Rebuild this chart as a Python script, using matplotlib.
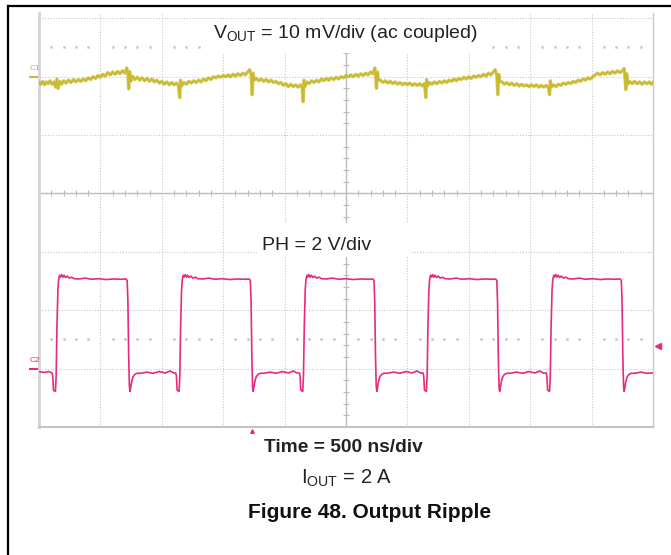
import matplotlib
matplotlib.use("Agg")
import matplotlib.pyplot as plt
from matplotlib.lines import Line2D
from matplotlib.patches import Rectangle

plt.rcParams['font.family'] = ['Liberation Sans', 'DejaVu Sans']
plt.rcParams['mathtext.fontset'] = 'custom'
plt.rcParams['mathtext.rm'] = 'Liberation Sans'
plt.rcParams['mathtext.it'] = 'Liberation Sans:italic'
plt.rcParams['mathtext.bf'] = 'Liberation Sans:bold'

# ---- scope settings ----
ns_per_div = 500
vout_mv_per_div = 10
ph_v_per_div = 2
c1_offset_div = 2.0     # C1 ground marker
c2_offset_div = -3.0    # C2 ground marker

# ---- VOUT ripple (ac coupled), time in ns, value in mV ----
vout_t = [0, 15, 30, 45, 60, 75, 90, 105, 120, 135, 145, 155, 170, 185, 200, 220, 240, 260, 280, 300,
          320, 340, 360, 380, 400, 420, 440, 460, 480, 500, 520, 540, 560, 580, 600, 620, 640, 660, 680, 700,
          715, 725, 730, 738, 748, 760, 780, 800, 820, 840, 860, 880, 900, 920, 940, 960, 980, 1000, 1020, 1040,
          1060, 1080, 1100, 1120, 1135, 1146, 1152, 1160, 1180, 1200, 1220, 1240, 1260, 1280, 1300, 1320, 1340, 1360, 1380, 1400,
          1420, 1440, 1460, 1480, 1500, 1520, 1540, 1560, 1580, 1600, 1620, 1640, 1660, 1680, 1700, 1715, 1728, 1736, 1744, 1752,
          1770, 1790, 1810, 1830, 1850, 1870, 1890, 1910, 1930, 1950, 1970, 1990, 2010, 2030, 2050, 2070, 2090, 2110, 2130, 2143,
          2152, 2158, 2166, 2180, 2200, 2220, 2240, 2260, 2280, 2300, 2320, 2340, 2360, 2380, 2400, 2420, 2440, 2460, 2480, 2500,
          2520, 2540, 2560, 2580, 2600, 2620, 2640, 2660, 2680, 2700, 2720, 2735, 2742, 2748, 2756, 2765, 2780, 2800, 2820, 2840,
          2860, 2880, 2900, 2920, 2940, 2960, 2980, 3000, 3020, 3040, 3060, 3080, 3100, 3120, 3138, 3150, 3156, 3164, 3180, 3200,
          3220, 3240, 3260, 3280, 3300, 3320, 3340, 3360, 3380, 3400, 3420, 3440, 3460, 3480, 3500, 3520, 3540, 3560, 3580, 3600,
          3620, 3640, 3660, 3680, 3700, 3715, 3728, 3736, 3744, 3752, 3770, 3790, 3810, 3830, 3850, 3870, 3890, 3910, 3930, 3950,
          3970, 3990, 4010, 4030, 4050, 4070, 4090, 4110, 4130, 4148, 4158, 4164, 4172, 4190, 4210, 4230, 4250, 4270, 4290, 4310,
          4330, 4350, 4370, 4390, 4410, 4430, 4450, 4470, 4490, 4510, 4530, 4550, 4570, 4590, 4610, 4630, 4650, 4670, 4690, 4710,
          4730, 4750, 4765, 4772, 4778, 4786, 4795, 4810, 4830, 4850, 4870, 4890, 4910, 4930, 4950, 4970, 4985, 5000]
vout_mv = [-1.0, -1.3, -0.8, -1.4, -0.9, -1.2, -0.7, -1.3, -0.9, -1.8, -0.4, -2.0, -0.8, -1.3, -0.7, -1.1, -0.6, -1.0, -0.5, -0.9,
           -0.5, -0.8, -0.4, -0.7, -0.2, -0.5, 0.0, -0.3, 0.2, -0.1, 0.4, 0.1, 0.7, 0.3, 0.8, 0.4, 0.9, 0.5, 1.0, 0.6,
           1.5, 0.2, -2.1, 0.9, -0.8, 0.1, -0.5, -0.1, -0.6, -0.2, -0.7, -0.3, -0.8, -0.4, -0.9, -0.6, -1.1, -0.8, -1.3, -0.9,
           -1.4, -1.0, -1.4, -1.1, -1.5, -3.6, -0.6, -1.6, -1.0, -1.3, -0.8, -1.1, -0.7, -1.0, -0.6, -0.9, -0.4, -0.7, -0.2, -0.5,
           0.0, -0.2, 0.1, -0.1, 0.2, 0.0, 0.3, 0.0, 0.4, 0.1, 0.5, 0.2, 0.6, 0.3, 0.8, 1.2, 0.3, -3.1, 0.6, -0.6,
           -0.3, -0.7, -0.4, -0.8, -0.5, -0.9, -0.6, -1.0, -0.8, -1.2, -1.0, -1.5, -1.2, -1.7, -1.3, -1.7, -1.4, -1.8, -1.4, -1.9,
           -4.3, -0.6, -1.7, -0.9, -1.2, -0.7, -1.0, -0.6, -0.9, -0.4, -0.7, -0.3, -0.6, -0.2, -0.5, -0.1, -0.4, 0.0, -0.2, 0.2,
           0.0, 0.3, 0.0, 0.4, 0.1, 0.5, 0.2, 0.6, 0.3, 0.8, 0.5, 1.5, 0.0, -2.0, 0.8, -0.6, -0.6, -1.0, -0.7, -1.1,
           -0.8, -1.2, -0.9, -1.3, -1.0, -1.4, -1.1, -1.4, -1.1, -1.5, -1.2, -1.5, -1.2, -1.6, -1.2, -3.6, -0.5, -1.6, -1.0, -1.3,
           -0.9, -1.2, -0.8, -1.1, -0.7, -1.0, -0.6, -0.8, -0.4, -0.7, -0.3, -0.5, -0.1, -0.4, 0.0, -0.3, 0.1, -0.1, 0.2, 0.0,
           0.4, 0.1, 0.6, 0.3, 0.8, 1.2, 0.2, -3.1, 0.4, -0.8, -0.9, -1.3, -1.0, -1.4, -1.1, -1.5, -1.2, -1.6, -1.3, -1.6,
           -1.4, -1.7, -1.4, -1.7, -1.4, -1.8, -1.5, -1.8, -1.5, -1.9, -3.1, -0.7, -1.8, -1.4, -1.7, -1.3, -1.5, -1.1, -1.3, -1.0,
           -1.2, -0.8, -1.0, -0.6, -0.8, -0.4, -0.6, -0.2, -0.4, 0.0, 0.3, 0.6, 0.3, 0.7, 0.4, 0.8, 0.5, 0.9, 0.6, 1.0,
           0.7, 1.0, 1.4, -0.2, -2.2, 0.5, -1.3, -0.8, -1.2, -0.8, -1.2, -0.9, -1.3, -0.9, -1.2, -0.9, -1.3, -1.0]

ph_rise_ns = [146, 1153, 2160, 3167, 4170]
ph_fall_ns = [728, 1731, 2738, 3738, 4752]
ph_start_t = [0, 40, 80]
ph_start_v = [-0.10, -0.13, -0.10]
# shape around a rising edge (offset ns, volts)
rise_dt = [-40, -34, -28, -12, -6, 0, 8, 14, 22, 30, 38, 48, 58, 70, 84, 100, 120, 140,
           180, 230, 280, 340, 400, 460, 520]
rise_v = [-0.15, -0.25, -0.74, -0.78, -0.2, 1.4, 2.7, 3.05, 3.2, 3.14, 3.22, 3.13, 3.2, 3.12, 3.17, 3.1, 3.13, 3.08,
          3.07, 3.1, 3.06, 3.08, 3.05, 3.07, 3.06]
# shape around a falling edge
fall_dt = [-20, -10, -4, 2, 8, 13, 20, 28, 38, 52, 70, 100, 150, 200, 250, 300, 340, 370]
fall_v = [3.07, 3.02, 2.3, 0.5, -0.6, -0.78, -0.62, -0.42, -0.28, -0.2, -0.16,
          -0.16, -0.12, -0.16, -0.1, -0.15, -0.08, -0.15]

pts = list(zip(ph_start_t, ph_start_v))
for r in ph_rise_ns:
    pts += [(r + d, v) for d, v in zip(rise_dt, rise_v)]
for f in ph_fall_ns:
    pts += [(f + d, v) for d, v in zip(fall_dt, fall_v) if f + d < 5000]
pts.append((5000, -0.15))
pts.sort()
ph_t = [p[0] for p in pts]
ph_div = [c2_offset_div + p[1] / ph_v_per_div for p in pts]
vout_div = [c1_offset_div + v / vout_mv_per_div for v in vout_mv]

yellow = '#c9b92c'
pink = '#e62a7e'

W, H = 671, 555
fig = plt.figure(figsize=(W / 100, H / 100), dpi=100)
ax = fig.add_axes([39 / W, 1 - 427 / H, (653 - 39) / W, (427 - 13) / H])
ax.set_xlim(0, 10 * ns_per_div)
ax.set_ylim(-4, 3.09)
ax.set_xticks([])
ax.set_yticks([])
ax.spines['top'].set_visible(False)
ax.spines['left'].set_color('#d4d4d4')
ax.spines['left'].set_linewidth(2)
ax.spines['bottom'].set_color('#c4c4c4')
ax.spines['bottom'].set_linewidth(1.5)
ax.spines['right'].set_color('#c8c8c8')
ax.spines['right'].set_linewidth(1)


def fx(x):
    return x / W


def fy(y):
    return 1 - y / H


# white label areas on the screen (under the traces, over the graticule)
ax.add_patch(Rectangle((fx(201), fy(53)), (492 - 201) / W, (53 - 12) / H, transform=fig.transFigure,
                       facecolor='white', edgecolor='none', zorder=1.5, clip_on=False))
ax.add_patch(Rectangle((fx(257), fy(257)), (411 - 257) / W, (257 - 223) / H, transform=fig.transFigure,
                       facecolor='white', edgecolor='none', zorder=1.5, clip_on=False))

# graticule
grid_kw = dict(color='#c6c6c6', lw=0.8, ls=(0, (1, 1.5)), zorder=1)
for k in range(1, 10):
    if k != 5:
        ax.axvline(k * ns_per_div, **grid_kw)
for k in [2, 1, -1, -2, -3]:
    ax.axhline(k, **grid_kw)
ax.axhline(3, color='#c6c6c6', lw=0.8, ls=(0, (1, 1.5)), zorder=2)
ax.axhline(0, color='#bcbcbc', lw=1, zorder=1)
ax.axvline(5 * ns_per_div, color='#bcbcbc', lw=1, zorder=1)
minor_x = [i * ns_per_div / 5 for i in range(1, 50) if i % 5]
minor_y = [i / 5 for i in range(-19, 16) if i % 5]
ax.plot(minor_x, [0] * len(minor_x), ls='none', marker='|', ms=4, mew=0.8, color='#bcbcbc', zorder=1)
ax.plot([5 * ns_per_div] * len(minor_y), minor_y, ls='none', marker='_', ms=4, mew=0.8, color='#bcbcbc', zorder=1)
for yy in [2.5, -2.5]:
    ax.plot(minor_x, [yy] * len(minor_x), ls='none', marker='s', ms=0.9, color='#c8c8c8', zorder=1)

# traces
ax.plot(vout_t, vout_div, color=yellow, lw=2.4, alpha=0.75, zorder=3)
ax.plot(vout_t, vout_div, color=yellow, lw=1.2, zorder=3)
ax.plot(ph_t, ph_div, color=pink, lw=1.2, zorder=3)

# channel markers
ax.plot([-75, 0], [c1_offset_div] * 2, color=yellow, lw=1.5, clip_on=False)
ax.plot([-75, 0], [c2_offset_div] * 2, color=pink, lw=1.5, clip_on=False)
ax.text(-80, c1_offset_div + 0.08, 'C1', color=yellow, fontsize=6, ha='left', va='bottom', clip_on=False)
ax.text(-80, c2_offset_div + 0.08, 'C2', color=pink, fontsize=6, ha='left', va='bottom', clip_on=False)
ax.plot([5040], [-2.61], marker='<', ms=4, color=pink, clip_on=False)
ax.plot([1738], [-4.06], marker='^', ms=2.5, color=pink, clip_on=False)

fig.text(fx(345), fy(38), r'V$_{\mathrm{OUT}}$ = 10 mV/div (ac coupled)', fontsize=14,
         ha='center', va='baseline', color='#222222', zorder=4)
fig.text(fx(262), fy(250), 'PH = 2 V/div', fontsize=14, ha='left', va='baseline', color='#222222', zorder=4)
fig.text(fx(343), fy(448), 'Time = 500 ns/div', fontsize=13.8, fontweight='bold',
         ha='center', va='center', color='#222222')
fig.text(fx(347), fy(484), r'I$_{\mathrm{OUT}}$ = 2 A', fontsize=14.5, ha='center', va='baseline', color='#222222')
fig.text(fx(370), fy(512), 'Figure 48. Output Ripple', fontsize=15, fontweight='bold',
         ha='center', va='center', color='#111111')

# outer frame (top and left only)
fig.add_artist(Line2D([fx(8), 1], [fy(6), fy(6)], color='black', lw=1.6))
fig.add_artist(Line2D([fx(8), fx(8)], [fy(6), 0], color='black', lw=1.6))

fig.savefig('out.png', dpi=100)
